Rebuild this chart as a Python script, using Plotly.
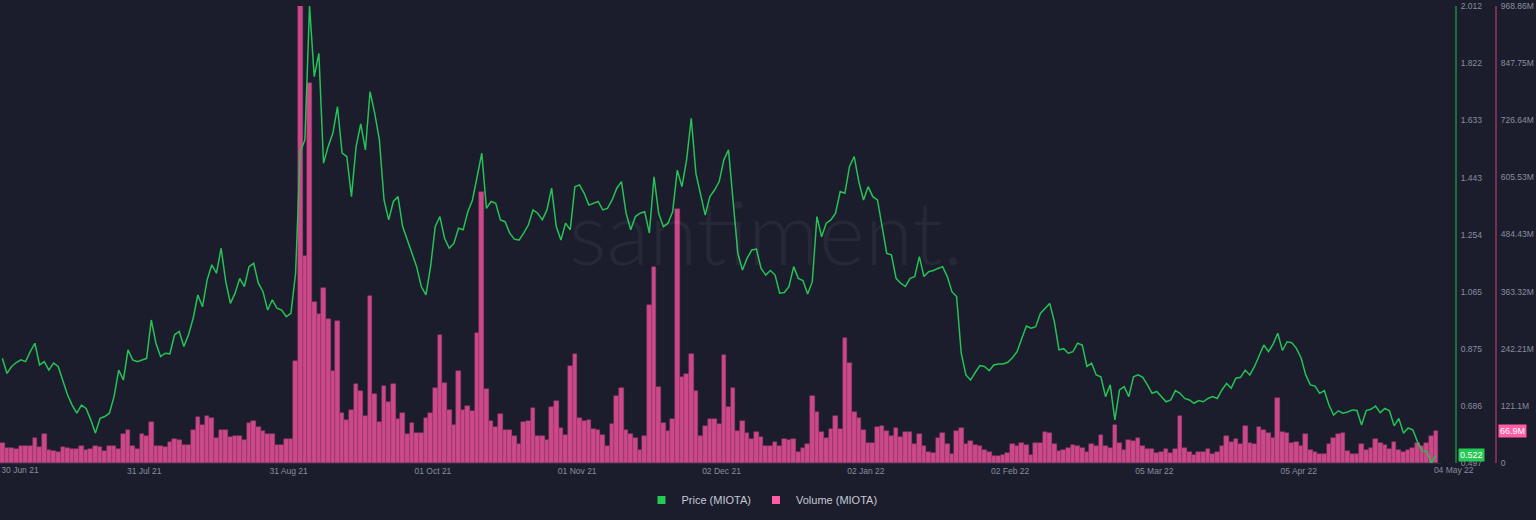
import pandas as pd
import plotly.graph_objects as go

# ---------------- data ----------------
start_date = "2021-06-30"

price = [
    0.844, 0.794, 0.817, 0.830, 0.839, 0.833, 0.866, 0.894, 0.822, 0.833,
    0.805, 0.828, 0.817, 0.767, 0.723, 0.689, 0.662, 0.689, 0.678, 0.640,
    0.596, 0.645, 0.651, 0.662, 0.717, 0.805, 0.772, 0.872, 0.839, 0.833,
    0.839, 0.844, 0.971, 0.894, 0.850, 0.861, 0.859, 0.922, 0.933, 0.883,
    0.922, 0.977, 1.054, 1.015, 1.104, 1.154, 1.126, 1.209, 1.098, 1.026,
    1.060, 1.109, 1.082, 1.148, 1.159, 1.093, 1.065, 1.004, 1.038, 1.010,
    1.004, 0.982, 0.993, 1.126, 1.529, 1.568, 2.012, 1.778, 1.855, 1.491,
    1.546, 1.590, 1.678, 1.524, 1.513, 1.380, 1.546, 1.621, 1.535, 1.728,
    1.656, 1.568, 1.369, 1.303, 1.364, 1.380, 1.281, 1.236, 1.192, 1.148,
    1.082, 1.054, 1.148, 1.281, 1.314, 1.242, 1.209, 1.225, 1.275, 1.270,
    1.330, 1.369, 1.446, 1.524, 1.341, 1.364, 1.358, 1.303, 1.297, 1.259,
    1.239, 1.236, 1.259, 1.286, 1.336, 1.325, 1.303, 1.336, 1.408, 1.281,
    1.236, 1.292, 1.270, 1.413, 1.419, 1.391, 1.352, 1.358, 1.364, 1.336,
    1.341, 1.369, 1.408, 1.430, 1.325, 1.270, 1.314, 1.325, 1.330, 1.259,
    1.446, 1.325, 1.281, 1.292, 1.330, 1.468, 1.413, 1.502, 1.640, 1.457,
    1.391, 1.319, 1.380, 1.402, 1.430, 1.502, 1.535, 1.369, 1.192, 1.137,
    1.176, 1.203, 1.206, 1.142, 1.120, 1.135, 1.120, 1.060, 1.062, 1.082,
    1.148, 1.109, 1.102, 1.057, 1.098, 1.314, 1.247, 1.292, 1.303, 1.325,
    1.397, 1.391, 1.480, 1.513, 1.430, 1.369, 1.413, 1.380, 1.369, 1.281,
    1.192, 1.187, 1.109, 1.093, 1.082, 1.109, 1.115, 1.181, 1.115, 1.131,
    1.135, 1.142, 1.148, 1.115, 1.065, 1.049, 0.861, 0.789, 0.772, 0.797,
    0.820, 0.817, 0.803, 0.822, 0.825, 0.825, 0.831, 0.846, 0.866, 0.910,
    0.951, 0.944, 0.949, 0.993, 1.010, 1.026, 0.966, 0.872, 0.876, 0.861,
    0.866, 0.894, 0.888, 0.817, 0.828, 0.789, 0.783, 0.717, 0.756,
    0.640, 0.739, 0.750, 0.717, 0.783, 0.789, 0.781, 0.756, 0.728, 0.734,
    0.717, 0.700, 0.706, 0.737, 0.728, 0.711, 0.706, 0.695, 0.704, 0.700,
    0.711, 0.717, 0.711, 0.739, 0.761, 0.745, 0.778, 0.781, 0.805, 0.789,
    0.817, 0.854, 0.888, 0.866, 0.891, 0.927, 0.870, 0.899, 0.896, 0.877,
    0.846, 0.789, 0.756, 0.752, 0.728, 0.737, 0.689, 0.656, 0.670, 0.662,
    0.666, 0.673, 0.671, 0.623, 0.671, 0.675, 0.686, 0.664, 0.678, 0.670,
    0.620, 0.645, 0.596, 0.613, 0.607, 0.568, 0.537, 0.535, 0.497, 0.522,
]

# daily volume, millions of USD
volume_m = [
    42, 32, 32, 30, 35, 36, 36, 53, 33, 61,
    28, 26, 24, 33, 32, 29, 30, 35, 28,
    29, 35, 33, 26, 35, 36, 29, 62, 71, 36,
    29, 61, 58, 87, 36, 35, 33, 45, 50, 48,
    38, 39, 71, 98, 80, 100, 96, 54, 71, 70,
    56, 57, 58, 48, 85, 88, 76, 68, 62, 62,
    38, 38, 50, 51, 217, 968.86, 439, 806, 342, 315,
    372, 305, 196, 302, 107, 91, 112, 167, 152, 100,
    354, 146, 86, 164, 130, 167, 93, 107, 61, 85,
    64, 63, 96, 105, 160, 271, 169, 112, 80, 194,
    112, 121, 111, 276, 575, 157, 88, 76, 104, 71,
    69, 57, 40, 86, 88, 116, 57, 58, 49, 118,
    131, 75, 59, 206, 232, 96, 88, 91, 73, 70,
    59, 37, 82, 142, 160, 70, 61, 54, 28, 57,
    335, 416, 162, 85, 68, 93, 538, 183, 188, 231,
    153, 58, 78, 93, 93, 82, 229, 118, 160, 68,
    89, 64, 50, 65, 56, 35, 35, 45, 36, 50,
    49, 50, 24, 32, 40, 142, 109, 66, 52, 73,
    100, 73, 266, 211, 109, 95, 70, 42, 43, 77,
    79, 68, 57, 75, 55, 66, 65, 40, 61, 37,
    24, 22, 54, 64, 40, 20, 68, 75, 40, 47,
    38, 35, 28, 23, 15, 15, 17, 22, 40, 37,
    42, 38, 18, 43, 43, 65, 63, 40, 26, 27,
    32, 38, 35, 32, 23, 40, 36, 59, 36, 32,
    81, 43, 28, 49, 47, 52, 36, 29, 29, 22,
    23, 29, 22, 29, 100, 32, 24, 18, 24, 23,
    30, 20, 23, 35, 58, 45, 50, 40, 79, 42,
    40, 77, 70, 64, 52, 137, 65, 63, 42, 45,
    36, 61, 28, 24, 19, 19, 40, 52, 61, 63,
    26, 19, 20, 40, 27, 32, 50, 42, 38, 29,
    45, 28, 24, 28, 32, 42, 35, 42, 57, 66.9,
]

price_ticks = [0.497, 0.686, 0.875, 1.065, 1.254, 1.443, 1.633, 1.822, 2.012]
volume_ticks = [0, 121.1, 242.21, 363.32, 484.43, 605.53, 726.64, 847.75, 968.86]
volume_tick_text = ["0", "121.1M", "242.21M", "363.32M", "484.43M",
                    "605.53M", "726.64M", "847.75M", "968.86M"]
x_tick_dates = ["2021-06-30", "2021-07-31", "2021-08-31", "2021-10-01",
                "2021-11-01", "2021-12-02", "2022-01-02", "2022-02-02",
                "2022-03-05", "2022-04-05", "2022-05-04"]
x_tick_text = ["30 Jun 21", "31 Jul 21", "31 Aug 21", "01 Oct 21", "01 Nov 21",
               "02 Dec 21", "02 Jan 22", "02 Feb 22", "05 Mar 22", "05 Apr 22",
               "04 May 22"]

n = min(len(price), len(volume_m))
price = price[:n]
volume_m = volume_m[:n]
dates = pd.date_range(start_date, periods=n, freq="D")

# ---------------- style ----------------
BG = "#1b1d2d"
GREEN = "#26c953"
PINK = "#ff5ea6"
BAR = "#cc4889"
TICK = "#888d9d"
FONT = "Liberation Sans, Arial, sans-serif"
W, H = 1536, 520
ML, MR, MT, MB = 0, 36, 6, 57
PW = W - ML - MR
X_RANGE = ["2021-06-30", "2022-05-05 12:00"]
X_DOMAIN = [0, 1440.7 / PW]

fig = go.Figure()
fig.add_trace(go.Bar(
    x=dates, y=volume_m, yaxis="y",
    xperiod=86400000, xperiodalignment="middle",
    marker=dict(color=BAR, line=dict(color="#93366a", width=0.5)),
    showlegend=False, hoverinfo="skip",
))
fig.add_trace(go.Scatter(
    x=dates, y=price, yaxis="y2", mode="lines",
    xperiod=86400000, xperiodalignment="middle",
    line=dict(color="#25c254", width=1.5),
    showlegend=False, hoverinfo="skip",
))
# legend entries (square swatches); they also carry the edge-date axis
fig.add_trace(go.Scatter(x=[None], y=[None], xaxis="x2", yaxis="y2", mode="markers",
                         marker=dict(symbol="square", size=8, color=GREEN),
                         name="Price (MIOTA)"))
fig.add_trace(go.Scatter(x=[None], y=[None], xaxis="x2", yaxis="y", mode="markers",
                         marker=dict(symbol="square", size=8, color=PINK),
                         name="Volume (MIOTA)"))

tickfont = dict(family=FONT, size=8.5, color=TICK)

fig.update_layout(
    width=W, height=H,
    paper_bgcolor=BG, plot_bgcolor=BG,
    margin=dict(l=ML, r=MR, t=MT, b=MB, autoexpand=False),
    bargap=0,
    font=dict(family=FONT, color=TICK),
    xaxis=dict(
        type="date", domain=X_DOMAIN, range=X_RANGE,
        tickvals=x_tick_dates[1:-1], ticktext=x_tick_text[1:-1],
        tickfont=tickfont, ticks="", showgrid=False, zeroline=False,
        showline=True, linecolor="#2a2d3f", linewidth=1,
        automargin=False, fixedrange=True,
    ),
    # first/last date labels are nudged inward like the reference does
    xaxis2=dict(
        type="date", domain=X_DOMAIN, range=X_RANGE, overlaying="x", anchor="y",
        side="bottom",
        tickvals=[x_tick_dates[0], x_tick_dates[-1]],
        ticktext=[x_tick_text[0], x_tick_text[-1]],
        ticklabelshift=20, ticklabeloverflow="allow",
        tickfont=tickfont, ticks="", showgrid=False, zeroline=False,
        showline=False, automargin=False, fixedrange=True,
    ),
    yaxis=dict(
        range=[0, 968.86], tickvals=volume_ticks, ticktext=volume_tick_text,
        side="right", anchor="free", position=1496 / PW,
        showline=True, linecolor="#782c56", linewidth=2,
        showgrid=False, zeroline=False, ticks="",
        tickfont=tickfont, ticklabelstandoff=2, automargin=False,
    ),
    yaxis2=dict(
        range=[0.497, 2.012], tickvals=price_ticks,
        ticktext=[f"{v:.3f}" for v in price_ticks],
        overlaying="y", side="right", anchor="free", position=1456 / PW,
        showline=True, linecolor="#1d6e3a", linewidth=2,
        showgrid=False, zeroline=False, ticks="",
        tickfont=tickfont, ticklabelstandoff=2, automargin=False,
    ),
    legend=dict(
        orientation="h", x=762 / PW, xanchor="center",
        y=-(500 - (H - MB)) / (H - MT - MB), yanchor="middle",
        font=dict(family=FONT, size=11, color="#c6c9d3"),
        bgcolor="rgba(0,0,0,0)", itemclick=False, itemdoubleclick=False,
    ),
)

# watermark
fig.add_annotation(
    text="santiment.", xref="paper", yref="paper",
    x=766 / PW, y=(463 - 231) / 457, xanchor="center", yanchor="middle",
    showarrow=False,
    font=dict(family="Lato, Open Sans, sans-serif", size=88, weight=300,
              color="rgba(255,255,255,0.05)"),
)

# current value tags
fig.add_annotation(
    text=f"{price[-1]:.3f}", xref="paper", yref="y2",
    x=1458 / PW, y=price[-1], xanchor="left", yanchor="middle",
    showarrow=False, bgcolor=GREEN, borderpad=1,
    font=dict(family=FONT, size=9, color="#ffffff"),
)
fig.add_annotation(
    text=f"{volume_m[-1]:.1f}M", xref="paper", yref="y",
    x=1498 / PW, y=volume_m[-1], xanchor="left", yanchor="middle",
    showarrow=False, bgcolor=PINK, borderpad=1,
    font=dict(family=FONT, size=9, color="#ffffff"),
)

fig.write_html(
    "out.html",
    config={"displayModeBar": False, "staticPlot": False},
    post_script="document.body.style.margin='0';document.body.style.background='" + BG + "';",
)
